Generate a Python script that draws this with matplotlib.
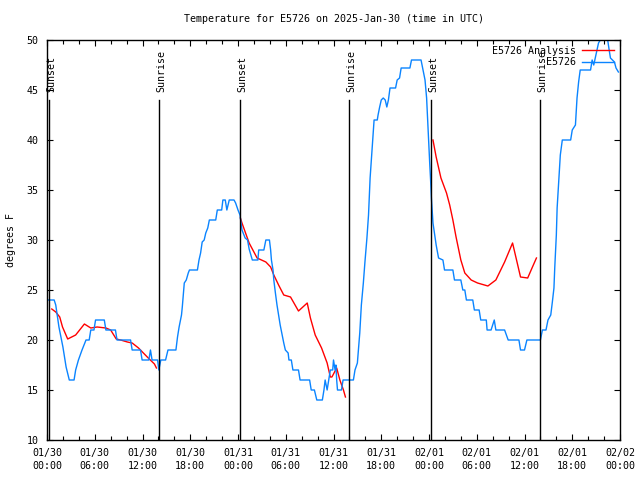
import numpy as np
import matplotlib.pyplot as plt

# hours since 2025-01-30 00:00 UTC
obs_hours = [0.15, 0.9, 1.1, 1.5, 2.0, 2.4, 2.8, 3.4, 3.6, 3.95,
             4.4, 4.9, 5.3, 5.5, 5.9, 6.1, 7.2, 7.4, 8.6, 8.8,
             10.5, 10.7, 11.75, 11.95, 12.8, 13.0, 13.2, 13.9, 14.05, 14.3,
             14.9, 15.2, 16.2, 16.4, 16.6, 16.9, 17.0, 17.25, 17.5, 17.75,
             17.9, 18.9, 19.1, 19.3, 19.5, 19.75, 19.95, 20.2, 20.4, 21.2,
             21.4, 21.95, 22.1, 22.4, 22.6, 22.9, 23.5, 23.7, 24.0, 24.25,
             24.5, 24.75, 24.9, 25.2, 25.4, 25.8, 26.5, 26.6, 27.25, 27.5,
             27.95, 28.1, 28.2, 28.4, 28.5, 28.7, 28.9, 29.1, 29.3, 29.5,
             29.75, 29.95, 30.3, 30.4, 30.7, 30.9, 31.6, 31.8, 33.0, 33.2,
             33.6, 33.9, 34.6, 34.8, 34.95, 35.2, 35.4, 35.6, 35.9, 36.0,
             36.2, 36.3, 36.4, 36.5, 37.0, 37.2, 38.5, 38.7, 39.0, 39.3,
             39.5, 39.75, 39.95, 40.2, 40.4, 40.6, 40.8, 41.0, 41.1, 41.5,
             41.6, 41.8, 42.0, 42.25, 42.5, 42.7, 42.9, 43.1, 43.8, 44.0,
             44.3, 44.5, 45.6, 45.8, 47.0, 47.25, 47.5, 47.7, 47.9, 48.1,
             48.2, 48.3, 48.5, 48.7, 48.9, 49.2, 49.75, 49.95, 51.0, 51.2,
             52.0, 52.25, 52.5, 52.7, 53.5, 53.7, 54.3, 54.5, 55.2, 55.3,
             55.8, 56.2, 56.4, 57.5, 57.95, 59.3, 59.5, 60.0, 60.3, 62.0,
             62.25, 62.7, 62.95, 63.3, 63.5, 63.7, 63.8, 64.0, 64.1, 64.3,
             64.5, 64.75, 65.8, 66.0, 66.4, 66.6, 66.8, 67.0, 68.3, 68.5,
             68.7, 69.1, 69.3, 69.75, 70.4, 70.6, 70.8, 71.3, 71.5, 71.8]
obs_temp = [24, 24, 23.5, 21.3, 19.3, 17.3, 16, 16, 17, 18,
            19, 20, 20, 21, 21, 22, 22, 21, 21, 20,
            20, 19, 19, 18, 18, 19, 18, 18, 17, 18,
            18, 19, 19, 20.3, 21.3, 22.5, 23.3, 25.7, 26, 26.7,
            27, 27, 28, 28.7, 29.8, 30, 30.7, 31.2, 32, 32,
            33, 33, 34, 34, 33, 34, 34, 33.7, 33, 32.5,
            31, 30.5, 30.2, 30, 29.1, 28, 28, 29, 29, 30,
            30, 29, 28, 27, 26, 24.7, 23.5, 22.5, 21.5, 20.7,
            19.7, 19, 18.7, 18, 18, 17, 17, 16, 16, 15,
            15, 14, 14, 15, 16, 15, 16, 17, 17, 18,
            17, 17.5, 16, 15, 15, 16, 16, 17, 17.7, 20.7,
            23.5, 25.7, 27.8, 30.2, 32.5, 36.2, 38.5, 40.8, 42, 42,
            42.5, 43.3, 44, 44.2, 44, 43.3, 44, 45.2, 45.2, 46,
            46.2, 47.2, 47.2, 48, 48, 47, 46, 44.2, 40.8, 37.5,
            36, 34.2, 31.7, 30.6, 29.5, 28.2, 28, 27, 27, 26,
            26, 25, 25, 24, 24, 23, 23, 22, 22, 21,
            21, 22, 21, 21, 20, 20, 19, 19, 20, 20,
            21, 21, 22, 22.5, 23.8, 25.2, 27.2, 30.5, 33.2, 35.8,
            38.5, 40, 40, 41, 41.5, 44.2, 45.8, 47, 47, 48,
            47.5, 49, 49.7, 50.3, 50.3, 49.2, 48.2, 47.8, 47.2, 46.8]

nan = float("nan")
ana_hours = [0.6, 1.1, 1.6, 1.95, 2.6, 3.6, 4.7, 5.5, 6.3, 7.4,
             8.0, 8.7, 9.25, 10.1, 10.7, 11.5, 12.6, 13.5, 13.75, 19.0,
             24.3, 24.5, 25.4, 26.4, 27.5, 28.1, 28.5, 29.1, 29.75, 30.6,
             31.6, 32.7, 33.1, 33.7, 34.5, 35.2, 35.6, 35.8, 36.4, 36.8,
             37.25, 37.5, 43.0,
             48.5, 48.9, 49.5, 50.2, 50.6, 51.0, 51.4, 52.0, 52.5, 53.3,
             54.1, 55.4, 56.4, 57.5, 58.5, 59.5, 60.4, 61.0, 61.5]
ana_temp = [23.1, 22.8, 22.3, 21.3, 20.1, 20.5, 21.6, 21.2, 21.3, 21.2,
            21.0, 20.1, 20.0, 19.8, 19.7, 19.2, 18.3, 17.6, 17.2, nan,
            32.2, 31.7, 29.7, 28.2, 27.8, 27.3, 26.5, 25.5, 24.5, 24.3,
            22.9, 23.7, 22.2, 20.5, 19.2, 17.7, 16.3, 16.3, 17.2, 16.0,
            15.0, 14.3, nan,
            40.0, 38.3, 36.2, 34.7, 33.5, 32.0, 30.3, 28.0, 26.7, 26.0,
            25.7, 25.4, 26.0, 27.8, 29.7, 26.3, 26.2, 27.3, 28.2]

sun_hours = [0.2, 14.05, 24.3, 38.0, 48.3, 61.95]
sun_names = ["Sunset", "Sunrise", "Sunset", "Sunrise", "Sunset", "Sunrise"]

tick_hours = list(range(0, 73, 6))
tick_labels = ["01/30\n00:00", "01/30\n06:00", "01/30\n12:00", "01/30\n18:00",
               "01/31\n00:00", "01/31\n06:00", "01/31\n12:00", "01/31\n18:00",
               "02/01\n00:00", "02/01\n06:00", "02/01\n12:00", "02/01\n18:00",
               "02/02\n00:00"]

plt.rcParams["font.family"] = ["DejaVu Sans Mono"]
plt.rcParams["font.size"] = 7.2

fig = plt.figure(figsize=(6.4, 4.8), dpi=100)
ax = fig.add_axes([47 / 640, 40 / 480, 573 / 640, 400 / 480])

ax.plot(ana_hours, ana_temp, color="red", lw=1.0, label="E5726 Analysis")
ax.plot(obs_hours, obs_temp, color="#0a84ff", lw=1.0, label="E5726")

for h, name in zip(sun_hours, sun_names):
    ax.plot([h, h], [10, 44], color="black", lw=1.0)
    ax.text(h + 0.3, 44.8, name, rotation=90, ha="center", va="bottom")

ax.set_xlim(0, 72)
ax.set_ylim(10, 50)
ax.set_xticks(tick_hours)
ax.set_xticklabels(tick_labels, linespacing=1.35)
ax.set_xticks(np.arange(0, 73, 2), minor=True)
ax.set_yticks(range(10, 51, 5))
ax.tick_params(which="both", direction="in", top=True, right=True)
ax.tick_params(which="major", length=4, width=0.8)
ax.tick_params(which="minor", length=3, width=0.8)
ax.tick_params(axis="y", pad=6)
ax.tick_params(axis="x", pad=6)
for s in ax.spines.values():
    s.set_linewidth(1.0)

ax.legend(loc="upper right", frameon=False, markerfirst=False, handlelength=3.2,
          handletextpad=0.6, labelspacing=0.15, borderaxespad=0.2)

fig.text(334 / 640, 1 - 19 / 480, "Temperature for E5726 on 2025-Jan-30 (time in UTC)",
         ha="center", va="center")
fig.text(11 / 640, 0.5, "degrees F", rotation=90, ha="center", va="center")

fig.savefig("out.png", dpi=100)
